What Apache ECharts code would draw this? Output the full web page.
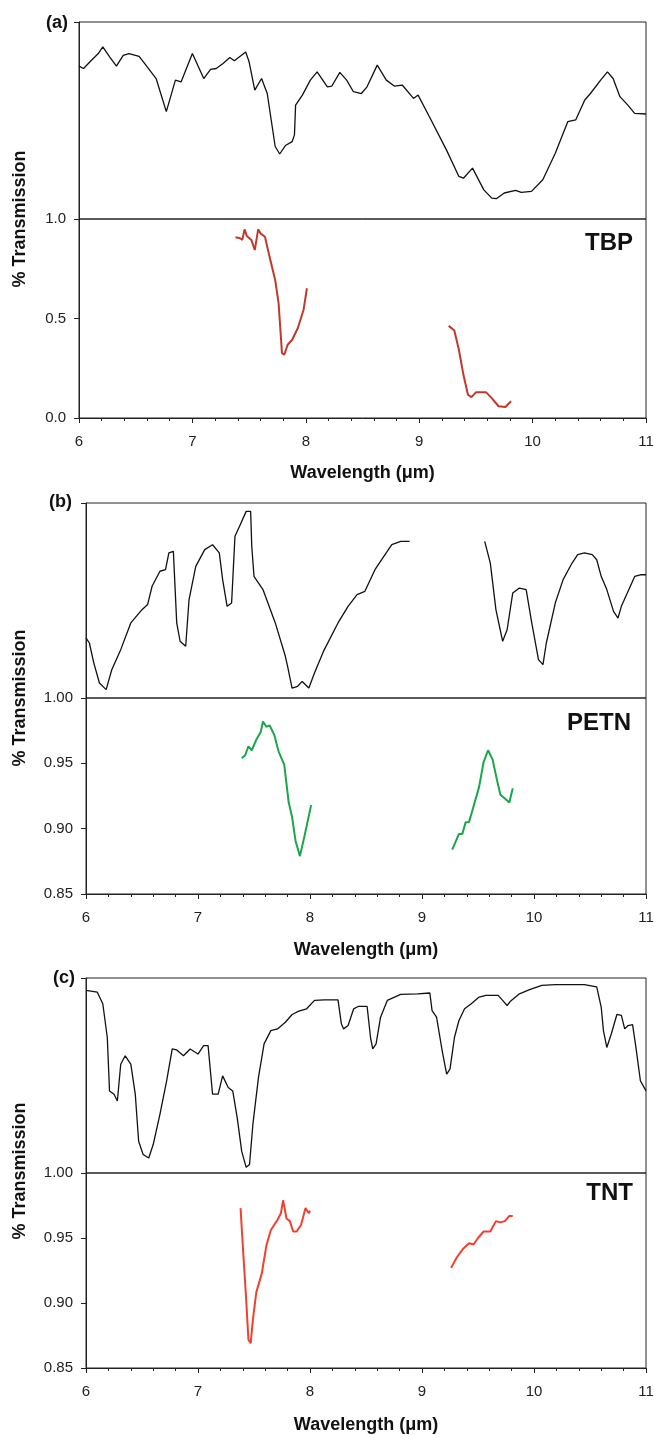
<!DOCTYPE html>
<html>
<head>
<meta charset="utf-8">
<script src="https://cdn.jsdelivr.net/npm/echarts@6/dist/echarts.min.js"></script>
<style>
html,body{margin:0;padding:0;background:#fff;}
#chart{width:654px;height:1435px;}
</style>
</head>
<body>
<div id="chart"></div>
<script>
// ---------- DATA ----------
// x ticks (wavelength, µm)
const xTicks = [6, 7, 8, 9, 10, 11];
const yTicksA = [0.0, 0.5, 1.0];
const yTicksBC = [0.85, 0.90, 0.95, 1.00];
const panelLabels = ['(a)', '(b)', '(c)'];
const compoundNames = ['TBP', 'PETN', 'TNT'];
const xTitle = 'Wavelength (\u03bcm)';
const yTitle = '% Transmission';

// (a) TBP reference spectrum (upper, normalised height)
const tbpRef = [[6.0,0.776],[6.04,0.764],[6.11,0.806],[6.17,0.84],[6.21,0.874],[6.27,0.823],[6.33,0.776],[6.39,0.831],[6.44,0.84],[6.53,0.826],[6.59,0.781],[6.68,0.713],[6.77,0.545],[6.85,0.705],[6.9,0.696],[7.0,0.84],[7.1,0.713],[7.16,0.759],[7.21,0.764],[7.27,0.789],[7.33,0.82],[7.37,0.803],[7.47,0.848],[7.5,0.798],[7.55,0.654],[7.61,0.713],[7.66,0.637],[7.73,0.368],[7.77,0.33],[7.82,0.373],[7.88,0.393],[7.9,0.427],[7.91,0.578],[7.97,0.629],[8.04,0.705],[8.1,0.747],[8.19,0.671],[8.23,0.675],[8.3,0.744],[8.36,0.705],[8.42,0.646],[8.49,0.637],[8.54,0.671],[8.63,0.781],[8.71,0.705],[8.78,0.675],[8.85,0.68],[8.95,0.612],[8.99,0.629],[9.09,0.519],[9.24,0.351],[9.35,0.216],[9.39,0.207],[9.47,0.258],[9.57,0.148],[9.64,0.106],[9.68,0.103],[9.75,0.132],[9.85,0.145],[9.9,0.135],[9.99,0.14],[10.09,0.199],[10.2,0.334],[10.31,0.494],[10.38,0.503],[10.46,0.604],[10.51,0.637],[10.6,0.705],[10.66,0.747],[10.71,0.713],[10.77,0.621],[10.84,0.578],[10.9,0.536],[11.0,0.533]];
// (a) TBP measured transmission
const tbpMeas1 = [[7.38,0.908],[7.42,0.903],[7.44,0.895],[7.46,0.948],[7.48,0.915],[7.52,0.895],[7.55,0.844],[7.58,0.948],[7.6,0.928],[7.64,0.911],[7.68,0.811],[7.73,0.694],[7.76,0.577],[7.79,0.326],[7.81,0.318],[7.84,0.368],[7.88,0.393],[7.93,0.452],[7.98,0.543],[8.01,0.652]];
const tbpMeas2 = [[9.26,0.463],[9.31,0.44],[9.35,0.343],[9.39,0.217],[9.43,0.117],[9.46,0.105],[9.5,0.129],[9.55,0.129],[9.59,0.129],[9.64,0.1],[9.7,0.059],[9.76,0.055],[9.81,0.084]];

// (b) PETN reference spectrum
const petnRef1 = [[6.0,0.308],[6.03,0.282],[6.07,0.179],[6.12,0.077],[6.18,0.043],[6.23,0.145],[6.31,0.248],[6.4,0.385],[6.5,0.453],[6.55,0.479],[6.59,0.573],[6.66,0.65],[6.71,0.658],[6.74,0.744],[6.78,0.752],[6.81,0.385],[6.84,0.291],[6.89,0.265],[6.92,0.504],[6.98,0.675],[7.06,0.761],[7.13,0.786],[7.19,0.744],[7.22,0.607],[7.26,0.47],[7.3,0.487],[7.33,0.829],[7.37,0.88],[7.43,0.957],[7.47,0.957],[7.48,0.778],[7.5,0.624],[7.58,0.556],[7.69,0.385],[7.78,0.214],[7.8,0.162],[7.84,0.051],[7.89,0.06],[7.93,0.085],[7.99,0.051],[8.04,0.128],[8.12,0.239],[8.25,0.385],[8.34,0.47],[8.42,0.53],[8.49,0.547],[8.58,0.658],[8.73,0.786],[8.81,0.803],[8.89,0.803]];
const petnRef2 = [[9.56,0.803],[9.61,0.692],[9.66,0.453],[9.72,0.291],[9.76,0.35],[9.81,0.538],[9.87,0.564],[9.93,0.556],[9.98,0.385],[10.04,0.197],[10.08,0.171],[10.11,0.282],[10.19,0.487],[10.26,0.607],[10.34,0.692],[10.39,0.735],[10.45,0.744],[10.52,0.735],[10.56,0.709],[10.6,0.624],[10.65,0.556],[10.71,0.444],[10.75,0.41],[10.78,0.47],[10.84,0.547],[10.9,0.624],[10.95,0.632],[11.0,0.632]];
// (b) PETN measured transmission
const petnMeas1 = [[7.39,0.954],[7.42,0.956],[7.45,0.963],[7.48,0.960],[7.52,0.968],[7.56,0.974],[7.58,0.982],[7.61,0.978],[7.64,0.979],[7.68,0.972],[7.72,0.959],[7.77,0.949],[7.81,0.920],[7.84,0.909],[7.87,0.891],[7.91,0.879],[7.95,0.894],[8.01,0.918]];
const petnMeas2 = [[9.27,0.884],[9.29,0.888],[9.33,0.896],[9.36,0.896],[9.39,0.905],[9.42,0.905],[9.46,0.917],[9.51,0.932],[9.55,0.951],[9.59,0.960],[9.63,0.953],[9.67,0.937],[9.7,0.926],[9.74,0.923],[9.78,0.920],[9.81,0.931]];

// (c) TNT reference spectrum
const tntRef = [[6.0,0.936],[6.1,0.928],[6.15,0.868],[6.19,0.696],[6.21,0.421],[6.25,0.404],[6.28,0.369],[6.31,0.558],[6.35,0.601],[6.4,0.558],[6.44,0.404],[6.47,0.163],[6.51,0.095],[6.56,0.077],[6.6,0.146],[6.66,0.301],[6.72,0.473],[6.77,0.636],[6.81,0.631],[6.87,0.601],[6.93,0.636],[7.0,0.61],[7.05,0.653],[7.09,0.653],[7.13,0.404],[7.18,0.404],[7.22,0.498],[7.27,0.438],[7.31,0.421],[7.35,0.284],[7.39,0.112],[7.43,0.029],[7.46,0.043],[7.49,0.249],[7.54,0.49],[7.59,0.662],[7.65,0.73],[7.71,0.739],[7.78,0.773],[7.84,0.813],[7.9,0.83],[7.97,0.842],[8.04,0.885],[8.13,0.888],[8.25,0.888],[8.28,0.765],[8.3,0.739],[8.34,0.756],[8.39,0.842],[8.43,0.854],[8.51,0.854],[8.54,0.696],[8.56,0.636],[8.59,0.662],[8.63,0.799],[8.69,0.885],[8.81,0.916],[8.96,0.919],[9.07,0.923],[9.09,0.833],[9.13,0.799],[9.18,0.627],[9.22,0.507],[9.25,0.533],[9.29,0.696],[9.33,0.782],[9.38,0.842],[9.44,0.868],[9.51,0.902],[9.57,0.911],[9.68,0.911],[9.72,0.885],[9.76,0.859],[9.79,0.881],[9.87,0.919],[9.96,0.94],[10.07,0.962],[10.19,0.966],[10.45,0.966],[10.56,0.954],[10.6,0.851],[10.62,0.73],[10.65,0.644],[10.69,0.713],[10.74,0.813],[10.78,0.808],[10.81,0.739],[10.84,0.756],[10.88,0.761],[10.91,0.644],[10.95,0.473],[11.0,0.421]];
// (c) TNT measured transmission
const tntMeas1 = [[7.38,0.973],[7.4,0.944],[7.43,0.903],[7.45,0.872],[7.47,0.869],[7.49,0.887],[7.52,0.908],[7.57,0.923],[7.61,0.944],[7.65,0.956],[7.71,0.964],[7.74,0.969],[7.76,0.979],[7.79,0.965],[7.82,0.963],[7.85,0.955],[7.88,0.955],[7.92,0.96],[7.96,0.973],[7.99,0.969],[8.0,0.971]];
const tntMeas2 = [[9.26,0.927],[9.31,0.935],[9.37,0.942],[9.42,0.946],[9.46,0.945],[9.5,0.95],[9.55,0.955],[9.61,0.955],[9.66,0.963],[9.7,0.962],[9.74,0.963],[9.78,0.967],[9.81,0.967]];

// ---------- LAYOUT ----------
const panels = [
  {left:79, right:646, upTop:22, mid:219, bot:418, yMin:0, yMax:1, yInt:0.5, dec:1,
   ref:[tbpRef], meas:[tbpMeas1, tbpMeas2], color:'#c1392b',
   lab:{x:68,y:23}, name:{x:633,y:243}, yTitleY:219, xTitleY:473},
  {left:86, right:646, upTop:503, mid:698, bot:894, yMin:0.85, yMax:1.0, yInt:0.05, dec:2,
   ref:[petnRef1, petnRef2], meas:[petnMeas1, petnMeas2], color:'#1aa64a',
   lab:{x:72,y:502}, name:{x:631,y:723}, yTitleY:698, xTitleY:950},
  {left:86, right:646, upTop:978, mid:1173, bot:1368, yMin:0.85, yMax:1.0, yInt:0.05, dec:2,
   ref:[tntRef], meas:[tntMeas1, tntMeas2], color:'#f2402e',
   lab:{x:75,y:978}, name:{x:633,y:1193}, yTitleY:1171, xTitleY:1425}
];

const FONT = 'Liberation Sans, Arial, sans-serif';
const AX = '#222';
const grids = [], xAxes = [], yAxes = [], series = [], graphics = [];

panels.forEach((p, i) => {
  const gUp = grids.length;
  grids.push({left:p.left, width:p.right-p.left, top:p.upTop, height:p.mid-p.upTop,
    outerBoundsMode:'none', containLabel:false,
    show:true, borderColor:AX, borderWidth:1, backgroundColor:'transparent'});
  xAxes.push({gridIndex:gUp, type:'value', min:6, max:11, interval:1, show:false});
  yAxes.push({gridIndex:gUp, type:'value', min:0, max:1, interval:1,
    axisLine:{show:true, lineStyle:{color:AX, width:1}},
    axisTick:{show:true, length:5, lineStyle:{color:AX}},
    axisLabel:{show:false}, splitLine:{show:false}});
  const gLo = grids.length;
  grids.push({left:p.left, width:p.right-p.left, top:p.mid, height:p.bot-p.mid,
    outerBoundsMode:'none', containLabel:false,
    show:true, borderColor:AX, borderWidth:1, backgroundColor:'transparent'});
  xAxes.push({gridIndex:gLo, type:'value', min:6, max:11, interval:1,
    axisLine:{show:true, onZero:false, lineStyle:{color:AX, width:1}},
    axisTick:{show:true, length:5, lineStyle:{color:AX}},
    minorTick:{show:true, splitNumber:5, length:3, lineStyle:{color:AX}},
    axisLabel:{show:true, color:'#222', fontFamily:FONT, fontSize:15, margin:16},
    splitLine:{show:false}, minorSplitLine:{show:false}});
  yAxes.push({gridIndex:gLo, type:'value', min:p.yMin, max:p.yMax, interval:p.yInt,
    axisLine:{show:true, lineStyle:{color:AX, width:1}},
    axisTick:{show:true, length:5, lineStyle:{color:AX}},
    axisLabel:{show:true, color:'#222', fontFamily:FONT, fontSize:15, margin:13,
      formatter:v => v.toFixed(p.dec)},
    splitLine:{show:false}});
  p.ref.forEach(seg => series.push({type:'line', xAxisIndex:gUp, yAxisIndex:gUp, data:seg,
    showSymbol:false, smooth:false, lineStyle:{color:'#111', width:1.3}, silent:true}));
  p.meas.forEach(seg => series.push({type:'line', xAxisIndex:gLo, yAxisIndex:gLo, data:seg,
    showSymbol:false, smooth:false, lineStyle:{color:p.color, width:2}, silent:true}));

  graphics.push({type:'text', x:p.lab.x, y:p.lab.y,
    style:{text:panelLabels[i], font:'bold 18px '+FONT, fill:'#111', align:'right', verticalAlign:'middle'}});
  graphics.push({type:'text', x:p.name.x, y:p.name.y,
    style:{text:compoundNames[i], font:'bold 24px '+FONT, fill:'#111', align:'right', verticalAlign:'middle'}});
  graphics.push({type:'text', x:(p.left+p.right)/2, y:p.xTitleY,
    style:{text:xTitle, font:'bold 18px '+FONT, fill:'#111', align:'center', verticalAlign:'middle'}});
  graphics.push({type:'text', x:20, y:p.yTitleY, rotation:Math.PI/2,
    style:{text:yTitle, font:'bold 18px '+FONT, fill:'#111', align:'center', verticalAlign:'middle'}});
});

const chart = echarts.init(document.getElementById('chart'), null, {renderer:'canvas'});
chart.setOption({
  animation:false,
  backgroundColor:'#fff',
  grid:grids, xAxis:xAxes, yAxis:yAxes, series:series, graphic:graphics
});
</script>
</body>
</html>
